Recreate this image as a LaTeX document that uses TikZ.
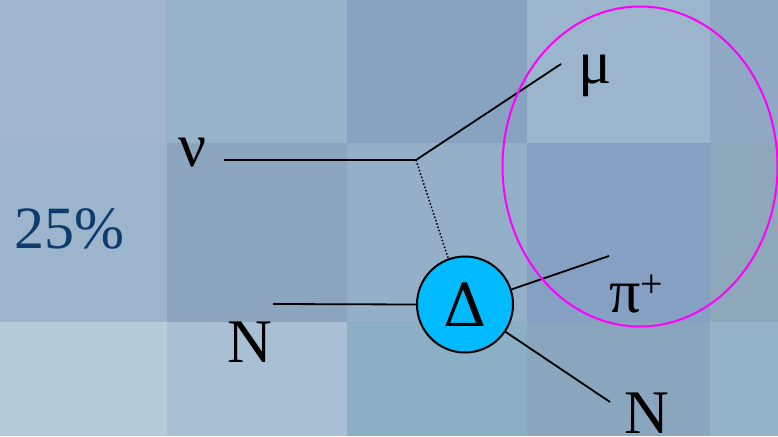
\documentclass[tikz,border=0pt]{standalone}
\usepackage{fontspec}
\setmainfont{Liberation Serif}
\newfontfamily\greekdelta{DejaVu Serif}
\definecolor{tA}{HTML}{A3B5CE}
\definecolor{tB}{HTML}{97B3CA}
\definecolor{tC}{HTML}{88A3C2}
\definecolor{tD}{HTML}{9AB5CC}
\definecolor{tE}{HTML}{8FA8C4}
\definecolor{tF}{HTML}{9CB4CC}
\definecolor{tG}{HTML}{8CA5BE}
\definecolor{tH}{HTML}{94AFC8}
\definecolor{tI}{HTML}{86A0C4}
\definecolor{tJ}{HTML}{8CA8BA}
\definecolor{tK}{HTML}{B5CBD8}
\definecolor{tL}{HTML}{A9BFD4}
\definecolor{tM}{HTML}{8BAFC4}
\definecolor{tN}{HTML}{89A6BE}
\definecolor{tO}{HTML}{95B3C8}
\definecolor{deltafill}{HTML}{00BBFF}
\definecolor{pctblue}{HTML}{0D3B6E}
\definecolor{ringcol}{RGB}{255,0,255}
\begin{document}
\begin{tikzpicture}[x=1pt,y=-1pt,
  lbl/.style={inner sep=0pt, font=\fontsize{62}{70}\selectfont},
  leg/.style={line width=1.8pt, black},
  bubble/.style={circle, draw=black, line width=2pt, fill=deltafill, minimum size=96pt, inner sep=0pt, font=\fontsize{60}{70}\selectfont},
  ring/.style={draw=ringcol, line width=2pt}]
\useasboundingbox (0,0) rectangle (778,436);
% background tiles
\fill[tA] (0,0) rectangle (167,143);
\fill[tB] (167,0) rectangle (347,143);
\fill[tC] (347,0) rectangle (527,143);
\fill[tD] (527,0) rectangle (710,143);
\fill[tE] (710,0) rectangle (778,143);
\fill[tF] (0,143) rectangle (167,322);
\fill[tG] (167,143) rectangle (347,322);
\fill[tH] (347,143) rectangle (527,322);
\fill[tI] (527,143) rectangle (710,322);
\fill[tJ] (710,143) rectangle (778,322);
\fill[tK] (0,322) rectangle (167,436);
\fill[tL] (167,322) rectangle (347,436);
\fill[tM] (347,322) rectangle (527,436);
\fill[tN] (527,322) rectangle (710,436);
\fill[tO] (710,322) rectangle (778,436);
% labels
\node[lbl, text=pctblue, font=\fontsize{60}{70}\selectfont, anchor=base] (pct) at (69,248) {25\%};
\node[lbl, anchor=base] (nu) at (193,166) {ν};
\node[lbl, anchor=base] (mu) at (595,83) {μ};
\node[lbl, anchor=base] (nl) at (250,362) {N};
\node[lbl, anchor=base west] (pi) at (609,312) {π\raisebox{0.5ex}{\fontsize{40}{44}\selectfont +}};
\node[lbl, anchor=base] (nr) at (647,433) {N};
% vertices and ends
\coordinate (v) at (416,160);
\coordinate (nuend) at (224,160);
\coordinate (muend) at (561,64);
\coordinate (nlend) at (273,304);
\coordinate (piend) at (609,256);
\coordinate (nrend) at (610,402);
\node[bubble] (delta) at (465,304.5) {\greekdelta Δ};
% lines
\draw[leg] (nuend) -- (v);
\draw[leg] (v) -- (muend);
\draw[black, line width=1.5pt, dotted] (v) -- (delta.110);
\draw[leg] (nlend) -- (delta.180);
\draw[leg] (delta.18) -- (piend);
\draw[leg] (delta.-34) -- (nrend);
% magenta ellipse
\draw[ring] (640,166.5) ellipse [x radius=137.5, y radius=160];
\end{tikzpicture}
\end{document}
